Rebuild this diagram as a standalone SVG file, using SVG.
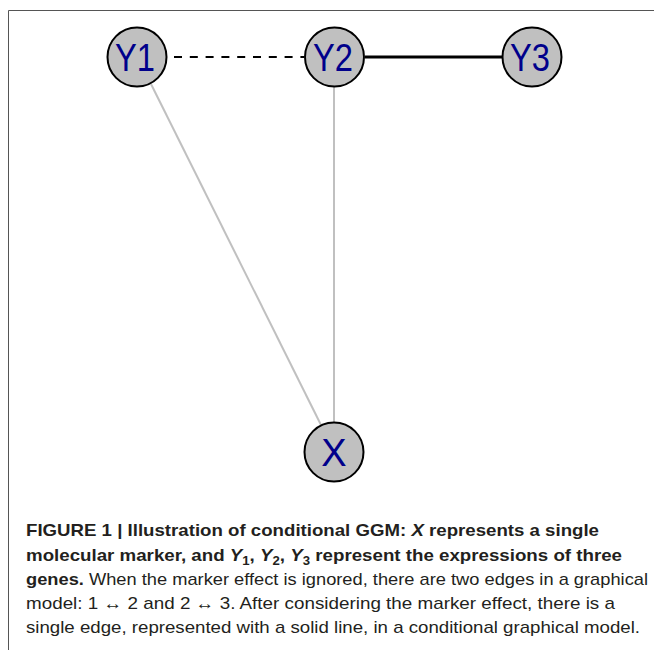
<svg xmlns="http://www.w3.org/2000/svg" width="654" height="650" viewBox="0 0 654 650">
  <style>
    .node circle { fill: #c0c0c0; stroke: #000; stroke-width: 2; }
    .node text { font-family: "Liberation Sans", Arial, sans-serif; font-size: 38px; fill: #00008b; text-anchor: middle; }
    .cap { font-family: "Liberation Sans", Arial, sans-serif; font-size: 17px; fill: #231f20; }
    .b { font-weight: bold; }
    .grey { stroke: #c0c0c0; stroke-width: 2; fill: none; }
  </style>
  <rect width="654" height="650" fill="#fff"/>
  <!-- frame -->
  <path d="M8.5 650 V10.5 H654" fill="none" stroke="#555" stroke-width="1"/>

  <g id="connectors">
    <line class="grey" x1="151" y1="84" x2="321" y2="425"/>
    <line class="grey" x1="334" y1="87" x2="334" y2="422"/>
    <line x1="174" y1="57" x2="304" y2="57" stroke="#000" stroke-width="2" stroke-dasharray="8,7.8"/>
    <line x1="365" y1="57" x2="502" y2="57" stroke="#000" stroke-width="3"/>
  </g>

  <g id="Y1" class="node">
    <circle cx="137" cy="57" r="29.5"/>
    <text x="135" y="70.5" textLength="40" lengthAdjust="spacingAndGlyphs">Y1</text>
  </g>
  <g id="Y2" class="node">
    <circle cx="334.5" cy="57" r="29.5"/>
    <text x="333" y="70.5" textLength="40" lengthAdjust="spacingAndGlyphs">Y2</text>
  </g>
  <g id="Y3" class="node">
    <circle cx="532" cy="57" r="29.5"/>
    <text x="530" y="70.5" textLength="40" lengthAdjust="spacingAndGlyphs">Y3</text>
  </g>
  <g id="X" class="node">
    <circle cx="334" cy="452" r="29.5"/>
    <text x="334" y="465.5">X</text>
  </g>

  <g id="caption">
    <text class="cap b" x="26" y="536" textLength="573" lengthAdjust="spacingAndGlyphs">FIGURE 1 | Illustration of conditional GGM: <tspan font-style="italic">X</tspan> represents a single</text>
    <text class="cap b" x="26" y="561" textLength="596" lengthAdjust="spacingAndGlyphs">molecular marker, and <tspan font-style="italic">Y</tspan><tspan font-size="12" dy="4">1</tspan><tspan dy="-4">, </tspan><tspan font-style="italic">Y</tspan><tspan font-size="12" dy="4">2</tspan><tspan dy="-4">, </tspan><tspan font-style="italic">Y</tspan><tspan font-size="12" dy="4">3</tspan><tspan dy="-4"> represent the expressions of three</tspan></text>
    <text class="cap" x="26" y="585" textLength="622" lengthAdjust="spacingAndGlyphs"><tspan class="b">genes.</tspan> When the marker effect is ignored, there are two edges in a graphical</text>
    <text class="cap" x="26" y="609" textLength="589" lengthAdjust="spacingAndGlyphs">model: 1 ↔ 2 and 2 ↔ 3. After considering the marker effect, there is a</text>
    <text class="cap" x="26" y="633" textLength="614" lengthAdjust="spacingAndGlyphs">single edge, represented with a solid line, in a conditional graphical model.</text>
  </g>
</svg>
